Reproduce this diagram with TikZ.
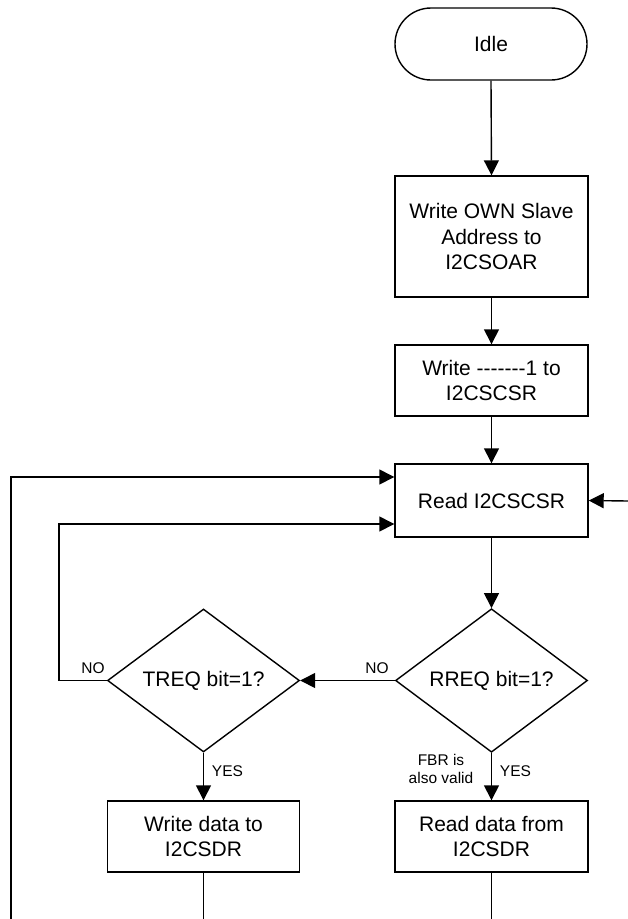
\documentclass[tikz,border=0pt]{standalone}
\usepackage{fontspec}
\setmainfont{Liberation Sans}
\usetikzlibrary{shapes.geometric,arrows.meta}
\begin{document}
\begin{tikzpicture}[x=1pt,y=1pt,
  every node/.style={font=\fontsize{21}{25.5}\selectfont, inner sep=0pt},
  box/.style={draw, line width=1.4pt, minimum width=193pt, minimum height=72pt, align=center},
  term/.style={box, minimum width=192pt, rounded corners=36pt},
  dec/.style={draw, line width=1.4pt, diamond, minimum width=192pt, minimum height=143pt, align=center},
  lab/.style={font=\fontsize{15.5}{18}\selectfont, align=center},
  conn/.style={line width=1.4pt},
  arr/.style={conn, -{Triangle[length=15pt,width=15pt]}}]
\useasboundingbox (0,0) rectangle (628,-919);

\node[term] (idle) at (491,-44) {Idle};
\node[box, minimum height=121pt] (own) at (491.5,-236.5) {Write OWN Slave\\Address to\\I2CSOAR};
\node[box, minimum height=71pt] (w1) at (491.5,-380.5) {Write -{}-{}-{}-{}-{}-{}-1 to\\I2CSCSR};
\node[box, minimum height=73pt] (read) at (491.5,-500.5) {Read I2CSCSR};
\node[dec] (rreq) at (491.5,-680.5) {RREQ bit=1?};
\node[dec] (treq) at (203.5,-680.5) {TREQ bit=1?};
\node[box, minimum width=192pt, minimum height=71pt] (wdata) at (203.5,-836.5) {Write data to\\I2CSDR};
\node[box, minimum height=71pt] (rdata) at (491.5,-836.5) {Read data from\\I2CSDR};

\coordinate (bot) at (0,-919);
\coordinate (lin) at (59,-680.5);
\coordinate (lout) at (11,-919);
\coordinate (rin) at (628,-501);

\draw[arr] (idle.south) -- (own.north);
\draw[arr] (own.south) -- (w1.north);
\draw[arr] (w1.south) -- (read.north);
\draw[arr] (read.south) -- (rreq.north);
\draw[arr] (rreq.west) -- (treq.east);
\draw[arr] (treq.south) -- (wdata.north);
\draw[arr] (rreq.south) -- (rdata.north);
\draw[arr] (treq.west) -- (lin) |- ([yshift=-23.5pt]read.west);
\draw[arr] (lout) |- ([yshift=23.5pt]read.west);
\draw[arr] (rin) -- (read.east);
\draw[conn] (wdata.south) -- (wdata.south |- bot);
\draw[conn] (rdata.south) -- (rdata.south |- bot);

\node[lab] (no1) at (93,-668) {NO};
\node[lab] (no2) at (377,-668) {NO};
\node[lab] (yes1) at (227.5,-771) {YES};
\node[lab] (yes2) at (515.5,-771) {YES};
\node[lab] (fbr) at (441,-769) {FBR is\\also valid};
\end{tikzpicture}
\end{document}
